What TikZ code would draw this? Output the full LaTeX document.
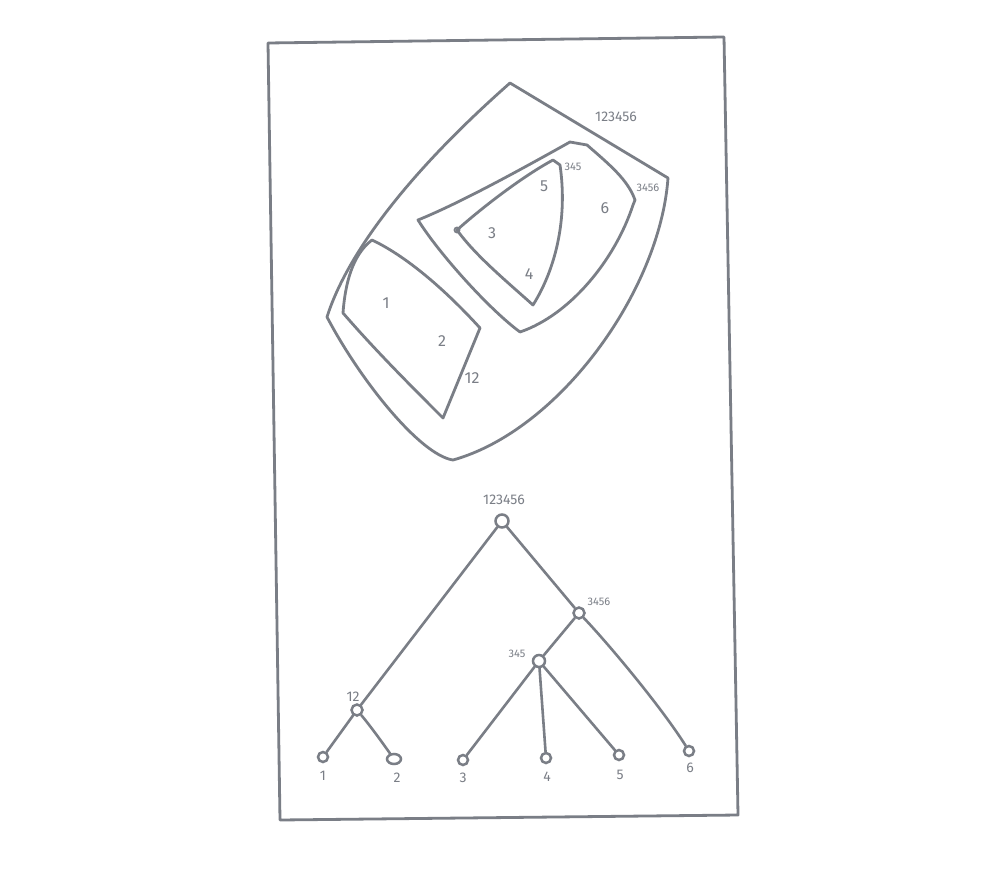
\documentclass[tikz,border=0pt]{standalone}
\usepackage{fontspec}
\setmainfont{Fira Sans}
\usetikzlibrary{shapes.geometric}
\definecolor{pen}{RGB}{122,126,134}
\tikzset{
  ink/.style={draw=pen, line width=2.8pt, line join=round, line cap=round},
  tnode/.style={circle, draw=pen, line width=2.5pt, fill=white, inner sep=0pt, minimum size=11pt},
  leaf/.style={circle, draw=pen, line width=2.5pt, fill=white, inner sep=0pt, minimum size=10pt},
  lab/.style={text=pen, inner sep=0pt, font=\fontsize{16}{16}\selectfont},
  slab/.style={text=pen, inner sep=0pt, font=\fontsize{11}{11}\selectfont},
  mlab/.style={text=pen, inner sep=0pt, font=\fontsize{14}{14}\selectfont},
  edge/.style={draw=pen, line width=2.6pt, line cap=round}
}
\begin{document}
\begin{tikzpicture}[x=1pt,y=-1pt]
\useasboundingbox[fill=white] (0,0) rectangle (1000,869);
% frame
\draw[ink] (268,43) -- (724,37) -- (738,815) -- (280,820) -- cycle;

% outer region 123456
\draw[ink] (510,83) -- (668,178)
  .. controls (660,290) and (560,430) .. (453,460)
  .. controls (420,455) and (360,380) .. (327,317)
  .. controls (345,260) and (400,180) .. (510,83) -- cycle;
% region 12
\draw[ink] (372,240) .. controls (410,258) and (450,295) .. (480,328)
  -- (443,418)
  .. controls (410,385) and (375,350) .. (343,313)
  .. controls (345,285) and (352,255) .. (372,240) -- cycle;
% region 3456
\draw[ink] (418,220) .. controls (460,203) and (520,170) .. (570,142)
  -- (587,145) .. controls (610,165) and (628,180) .. (635,200) -- (633,205)
  .. controls (615,260) and (570,315) .. (520,332)
  .. controls (490,310) and (440,255) .. (418,220) -- cycle;
% region 345
\draw[ink] (457,230) .. controls (485,205) and (525,175) .. (553,160)
  -- (560,165) .. controls (568,220) and (555,270) .. (533,305)
  .. controls (505,280) and (475,255) .. (457,230) -- cycle;
\draw[draw=pen, line width=1.8pt] (457,230) circle (2.5);

% region labels
\node[mlab] (r123456) at (616,117) {123456};
\node[slab] (r3456) at (648,188) {3456};
\node[slab] (r345) at (573,167) {345};
\node[lab] (r12) at (472,378) {12};
\node[lab] (r1) at (386,303) {1};
\node[lab] (r2) at (442,341) {2};
\node[lab] (r3) at (492,233) {3};
\node[lab] (r4) at (529,274) {4};
\node[lab] (r5) at (544,186) {5};
\node[lab] (r6) at (605,208) {6};

% tree
\node[tnode, minimum size=13pt] (t123456) at (502,521) {};
\node[tnode] (t3456) at (579,613) {};
\node[tnode, minimum size=12pt] (t345) at (539,661) {};
\node[tnode] (t12) at (357,710) {};
\node[leaf] (l1) at (323,757) {};
\node[leaf, ellipse, minimum width=14pt, minimum height=10pt] (l2) at (394,759) {};
\node[leaf] (l3) at (463,760) {};
\node[leaf] (l4) at (546,758) {};
\node[leaf] (l5) at (619,755) {};
\node[leaf] (l6) at (689,751) {};

\draw[edge] (t123456) -- (t12);
\draw[edge] (t123456) -- (t3456);
\draw[edge] (t3456) -- (t345);
\draw[edge] (t3456) .. controls (605,640) and (660,705) .. (l6);
\draw[edge] (t345) -- (l3);
\draw[edge] (t345) -- (l4);
\draw[edge] (t345) -- (l5);
\draw[edge] (t12) -- (l1);
\draw[edge] (t12) .. controls (372,728) and (384,745) .. (l2);

% tree labels
\node[mlab] (k123456) at (504,500) {123456};
\node[slab] (k3456) at (599,602) {3456};
\node[slab] (k345) at (517,654) {345};
\node[mlab] (k12) at (353,697) {12};
\node[mlab] (k1) at (323,776) {1};
\node[mlab] (k2) at (397,778) {2};
\node[mlab] (k3) at (463,778) {3};
\node[mlab] (k4) at (547,777) {4};
\node[mlab] (k5) at (620,775) {5};
\node[mlab] (k6) at (690,768) {6};
\end{tikzpicture}
\end{document}
